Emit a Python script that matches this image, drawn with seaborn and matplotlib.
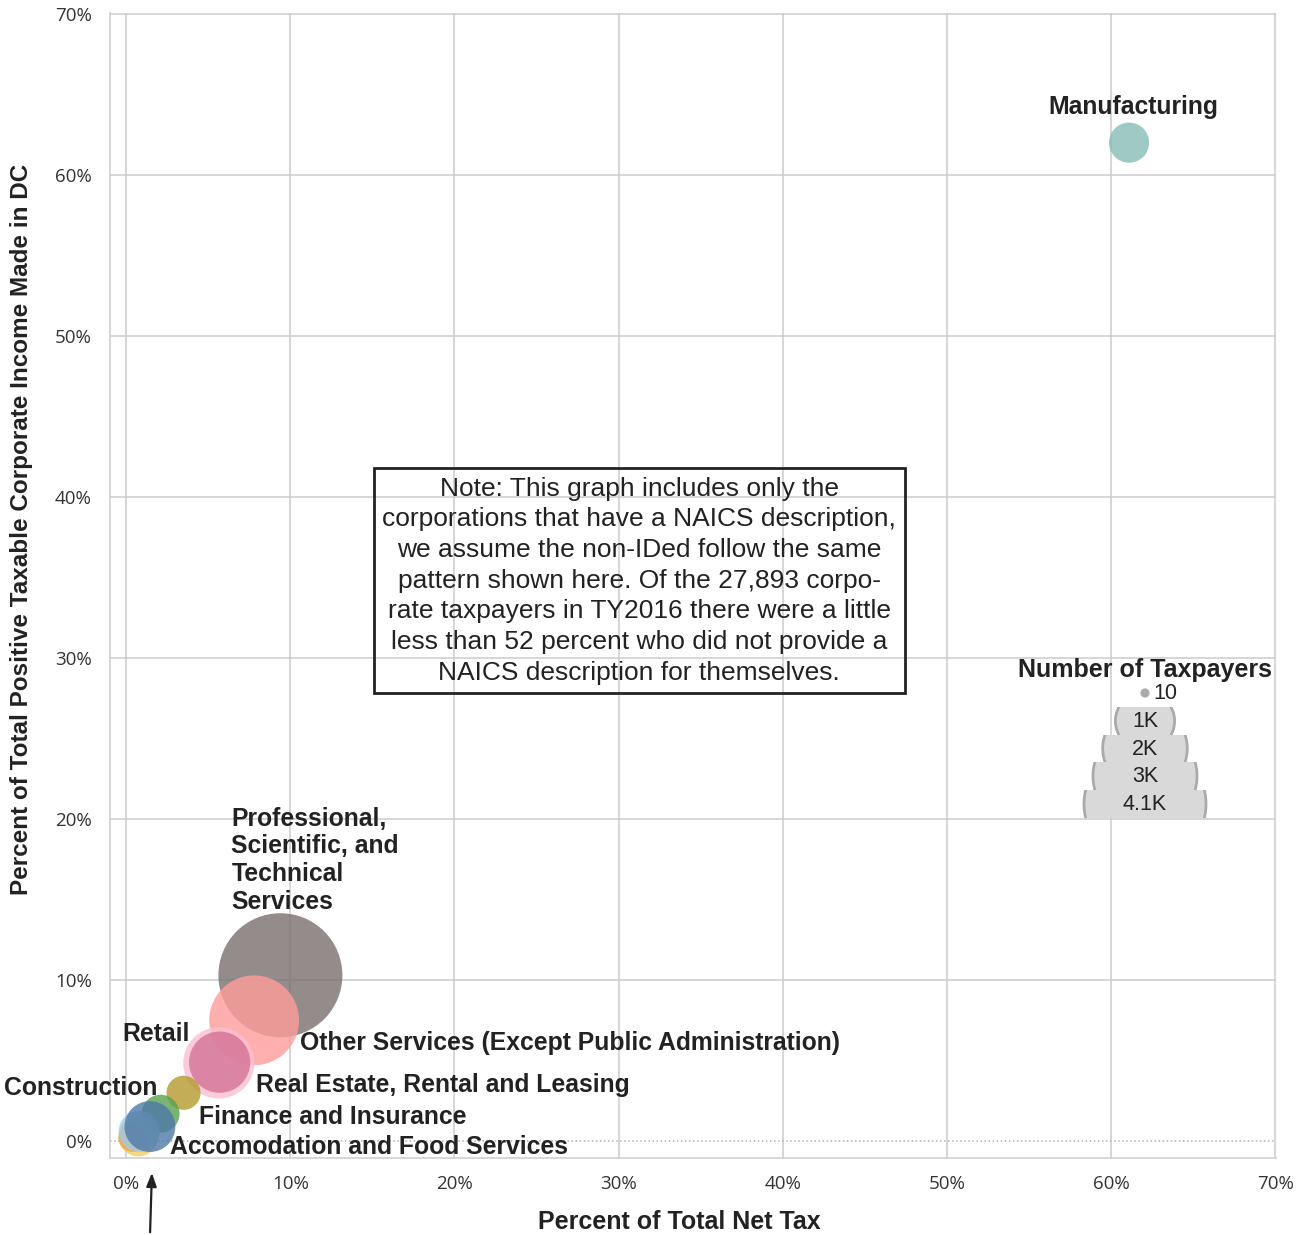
import pandas as pd
import matplotlib
matplotlib.use('Agg')
import matplotlib.pyplot as plt
import seaborn as sns
from matplotlib.patches import Circle, Rectangle

# data
industries = ['Professional, Scientific, and Technical Services',
              'Other Services (Except Public Administration)',
              'Retail',
              'Real Estate, Rental and Leasing',
              'Finance and Insurance',
              'Construction',
              'Wholesale Trade',
              'Health Care and Social Assistance',
              'Information',
              'Accomodation and Food Services',
              'Manufacturing']
pct_net_tax = [9.4, 7.8, 5.65, 5.7, 3.5, 2.1, 0.75, 0.4, 0.8, 1.45, 61.1]
pct_income = [10.3, 7.5, 4.85, 4.9, 3.0, 1.7, 0.3, 0.2, 0.6, 0.9, 62.0]
taxpayers = [4100, 2150, 1350, 1000, 310, 385, 430, 210, 450, 690, 430]
colors = ['#79706e', '#ff9d9a', '#fabfd2', '#d37295', '#b6992d', '#59a14f',
          '#f1ce63', '#f5a040', '#a0cbe8', '#4e79a7', '#86bcb6']

legend_values = [10, 1000, 2000, 3000, 4100]
legend_labels = ['10', '1K', '2K', '3K', '4.1K']
note = ("Note: This graph includes only the\n"
        "corporations that have a NAICS description,\n"
        "we assume the non-IDed follow the same\n"
        "pattern shown here. Of the 27,893 corpo-\n"
        "rate taxpayers in TY2016 there were a little\n"
        "less than 52 percent who did not provide a\n"
        "NAICS description for themselves.")

df = pd.DataFrame({'industry': industries, 'net_tax': pct_net_tax,
                   'income': pct_income, 'taxpayers': taxpayers})

sns.set_style('whitegrid')
plt.rcParams['font.family'] = ['Liberation Sans', 'DejaVu Sans']

W, H = 1306, 1235
fig = plt.figure(figsize=(W / 100, H / 100), dpi=100)
ax = fig.add_axes([110 / W, 1 - 1158 / H, (1276 - 110) / W, (1158 - 13) / H])

max_n = 4100
r_max_px = 62
s_max = (2 * r_max_px * 0.72) ** 2  # marker area in pt^2 for the largest bubble

sns.scatterplot(data=df, x='net_tax', y='income', hue='industry',
                palette=dict(zip(industries, colors)), size='taxpayers',
                sizes=(0, s_max), size_norm=(0, max_n), alpha=0.8,
                linewidth=0, legend=False, ax=ax)

ax.set_xlim(-0.98, 70.05)
ax.set_ylim(-1.05, 70.05)
ticks = list(range(0, 71, 10))
ax.set_xticks(ticks)
ax.set_yticks(ticks)
ax.set_xticklabels([f'{t}%' for t in ticks], fontfamily='Open Sans', fontsize=13.5, color='#333333')
ax.set_yticklabels([f'{t}%' for t in ticks], fontfamily='Open Sans', fontsize=13.5, color='#333333')
ax.tick_params(axis='x', length=0, pad=12)
ax.tick_params(axis='y', length=8, color='#cccccc', width=1, pad=5)
ax.grid(True, color='#cccccc', linewidth=1.1)
ax.get_ygridlines()[0].set_linestyle(':')
ax.get_ygridlines()[0].set_color('#b0b0b0')
for side in ['top', 'right']:
    ax.spines[side].set_visible(False)
for side in ['left', 'bottom']:
    ax.spines[side].set_color('#cccccc')
    ax.spines[side].set_linewidth(1.1)

ax.set_xlabel('Percent of Total Net Tax', fontsize=18, fontweight='bold', color='#222222')
ax.set_ylabel('Percent of Total Positive Taxable Corporate Income Made in DC',
              fontsize=17.5, fontweight='bold', color='#222222')
ax.xaxis.set_label_coords(0.488, -0.045)
ax.yaxis.set_label_coords(-0.066, 0.549)

# bubble labels (offsets in pixels from the bubble centre)
label_pos = {
    'Manufacturing': (4, 36, 'center', 'center'),
    'Professional, Scientific, and Technical Services': (-49, 115, 'left', 'center'),
    'Other Services (Except Public Administration)': (46, -23, 'left', 'center'),
    'Real Estate, Rental and Leasing': (36, -23, 'left', 'center'),
    'Retail': (-29, 29, 'right', 'center'),
    'Finance and Insurance': (15, -24, 'left', 'center'),
    'Construction': (-3, 26, 'right', 'center'),
    'Accomodation and Food Services': (20, -20, 'left', 'center'),
}
for _, row in df.iterrows():
    if row['industry'] not in label_pos:
        continue
    dx, dy, ha, va = label_pos[row['industry']]
    text = row['industry']
    if text.startswith('Professional'):
        text = 'Professional,\nScientific, and\nTechnical\nServices'
    ax.annotate(text, (row['net_tax'], row['income']), xytext=(dx, dy),
                textcoords='offset pixels', ha=ha, va=va, fontsize=17.8,
                fontweight='bold', color='#222222', linespacing=1.2)

# note box
ax.text(31.26, 34.8, note, ha='center', va='center', fontsize=19, color='#222222',
        linespacing=1.35,
        bbox=dict(boxstyle='square,pad=0.33', fc='none', ec='#222222', lw=2))

# arrow under the x axis
fig.add_artist(matplotlib.patches.FancyArrowPatch(
    (150 / W, 0.0), (152 / W, 1 - 1170 / H), transform=fig.transFigure,
    arrowstyle='-|>,head_length=8,head_width=3', color='#222222', lw=1.6,
    mutation_scale=1))

# size legend, drawn in pixel units
lx0, lx1, ly0, ly1 = 1070, 1230, 680, 825
leg = fig.add_axes([lx0 / W, 1 - ly1 / H, (lx1 - lx0) / W, (ly1 - ly0) / H])
leg.set_xlim(lx0, lx1)
leg.set_ylim(ly1, ly0)
leg.axis('off')
cx = 1145
band_edges = [707, 735, 762, 790, 818]
leg.add_patch(Circle((cx, 693), r_max_px * (legend_values[0] / max_n) ** 0.5 + 1.5,
                     fc='#aaaaaa', ec='none'))
leg.text(cx + 8, 694, legend_labels[0], ha='left', va='center', fontsize=15.5, color='#222222')
for i, (val, lab) in enumerate(zip(legend_values[1:], legend_labels[1:])):
    top, bot = band_edges[i], band_edges[i + 1]
    yc = (top + bot) / 2
    r = r_max_px * (val / max_n) ** 0.5
    clip = Rectangle((lx0, top), lx1 - lx0, bot - top, transform=leg.transData)
    c = Circle((cx, yc), r - 1, fc='#d9d9d9', ec='#aaaaaa', lw=2)
    leg.add_patch(c)
    c.set_clip_path(clip)
    leg.text(cx, yc + 1, lab, ha='center', va='center', fontsize=15.5, color='#222222')
fig.text(1145 / W, 1 - 670 / H, 'Number of Taxpayers', ha='center', va='center',
         fontsize=18, fontweight='bold', color='#222222')

fig.savefig('out.png', dpi=100)
